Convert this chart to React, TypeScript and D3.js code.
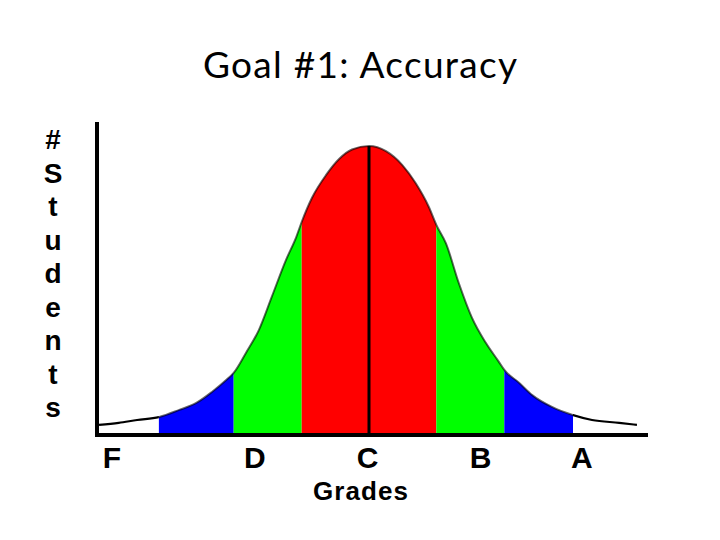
import React from "react";
import * as d3 from "d3";

// Curve: z = grade position (C = 0), h = # students (peak = 100)
const curveZ = [-3.97, -3.68, -3.41, -3.09, -2.79, -2.54, -2.31, -2.1, -1.99, -1.81, -1.62, -1.43, -1.22, -1.07, -0.99, -0.84, -0.63, -0.44, -0.25, 0, 0.25, 0.49, 0.69, 0.88, 0.99, 1.13, 1.32, 1.51, 1.72, 1.91, 1.99, 2.21, 2.4, 2.69, 3.0, 3.28, 3.68, 3.94];
const curveH = [3.5, 4.2, 5.2, 6.2, 8.7, 11.1, 14.9, 19.0, 21.5, 28.4, 36.3, 47.8, 60.6, 68.5, 73.7, 82.0, 90.0, 95.5, 98.8, 100, 98.2, 93.4, 87.0, 78.9, 72.7, 66.4, 52.6, 40.8, 31.8, 25.3, 22.5, 18.0, 13.8, 9.7, 6.9, 5.2, 4.2, 3.5];

const bandFrom = [-3.09, -1.99, -0.99, 0.99, 1.99];
const bandTo = [-1.99, -0.99, 0.99, 1.99, 3.0];
const bandColor = ["#0000ff", "#00ff00", "#ff0000", "#00ff00", "#0000ff"];

const gradeLabels = ["F", "D", "C", "B", "A"];
const gradePos = [-3.78, -1.68, -0.02, 1.64, 3.13];

const yLabel = ["#", "S", "t", "u", "d", "e", "n", "t", "s"];

const W = 720;
const H = 540;
const left = 96;
const right = 648;
const top = 122;
const base = 435;

export default function App() {
  const x = d3.scaleLinear().domain([-4, 4]).range([369 - 4 * 68, 369 + 4 * 68]);
  const y = d3.scaleLinear().domain([0, 100]).range([base, 146]);
  const pts: [number, number][] = curveZ.map((z, i) => [z, curveH[i]]);
  const area = d3
    .area<[number, number]>()
    .x((d) => x(d[0]))
    .y0(y(0))
    .y1((d) => y(d[1]))
    .curve(d3.curveMonotoneX);
  const line = d3
    .line<[number, number]>()
    .x((d) => x(d[0]))
    .y((d) => y(d[1]))
    .curve(d3.curveMonotoneX);
  const areaD = area(pts) || "";
  const lineD = line(pts) || "";
  const bandsStart = bandFrom[0];
  const bandsEnd = bandTo[bandTo.length - 1];

  return (
    <svg width={W} height={H} style={{ position: "absolute", left: 0, top: 0, background: "#fff" }}>
      <defs>
        {bandFrom.map((b, i) => (
          <clipPath id={`band${i}`} key={i}>
            <rect x={x(b)} y={0} width={x(bandTo[i]) - x(b)} height={H} />
          </clipPath>
        ))}
        <clipPath id="inner">
          <rect x={x(bandsStart)} y={0} width={x(bandsEnd) - x(bandsStart)} height={H} />
        </clipPath>
        <clipPath id="tails">
          <rect x={0} y={0} width={x(bandsStart)} height={H} />
          <rect x={x(bandsEnd)} y={0} width={W - x(bandsEnd)} height={H} />
        </clipPath>
      </defs>
      <rect x={0} y={0} width={W} height={H} fill="#fff" />
      <text
        x={360}
        y={78}
        textAnchor="middle"
        fontFamily="Lato, 'Open Sans', sans-serif"
        fontSize={37}
        textLength={314}
        lengthAdjust="spacing"
        fill="#000"
      >
        Goal #1: Accuracy
      </text>

      {bandFrom.map((b, i) => (
        <path key={i} d={areaD} fill={bandColor[i]} clipPath={`url(#band${i})`} />
      ))}
      <path d={lineD} fill="none" stroke="#000" strokeOpacity={0.6} strokeWidth={2} clipPath="url(#inner)" />
      <path d={lineD} fill="none" stroke="#000" strokeWidth={2.2} clipPath="url(#tails)" />
      <line x1={x(0)} x2={x(0)} y1={y(0)} y2={y(100)} stroke="#000" strokeWidth={3} />

      <rect x={left - 1} y={top} width={4} height={base + 2 - top} fill="#000" />
      <rect x={left} y={base - 2} width={right - left} height={4} fill="#000" />

      {gradeLabels.map((g, i) => (
        <text
          key={g}
          x={x(gradePos[i])}
          y={468}
          textAnchor="middle"
          fontFamily="'Liberation Sans', Arial, sans-serif"
          fontWeight="bold"
          fontSize={30}
          fill="#000"
        >
          {g}
        </text>
      ))}
      <text
        x={360.5}
        y={500}
        textAnchor="middle"
        fontFamily="'Liberation Sans', Arial, sans-serif"
        fontWeight="bold"
        fontSize={26}
        textLength={95}
        lengthAdjust="spacing"
        fill="#000"
      >
        Grades
      </text>
      {yLabel.map((c, i) => (
        <text
          key={i}
          x={53}
          y={149 + i * 33.5}
          textAnchor="middle"
          fontFamily="'Liberation Sans', Arial, sans-serif"
          fontWeight="bold"
          fontSize={28}
          fill="#000"
        >
          {c}
        </text>
      ))}
    </svg>
  );
}
